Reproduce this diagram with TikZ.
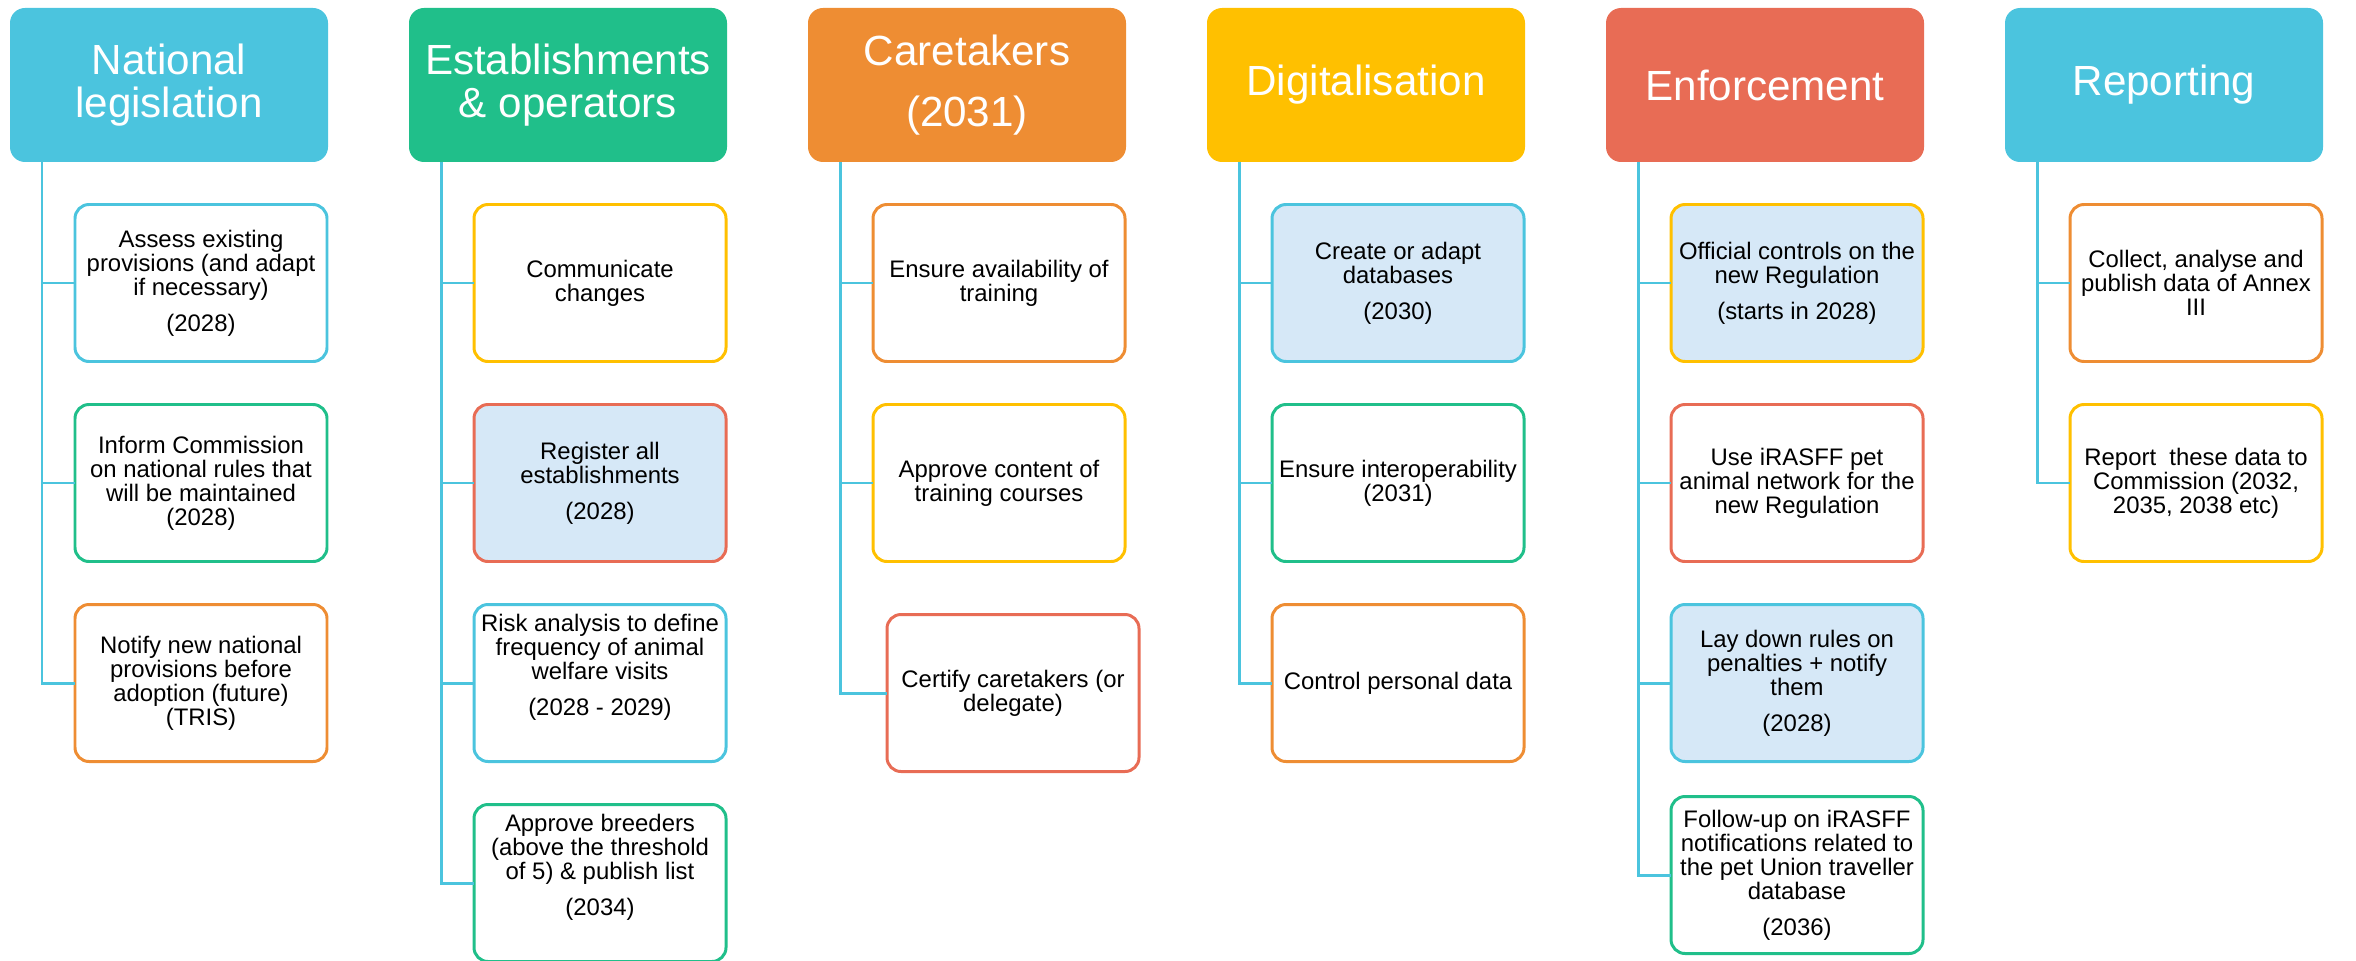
\documentclass[tikz,border=0pt]{standalone}
\usepackage{fontspec}
\setmainfont{Liberation Sans}
\usepackage{xcolor}
\usepackage{tikz}
\usetikzlibrary{positioning}

\definecolor{aqua}{HTML}{4BC4DE}
\definecolor{jade}{HTML}{20BF8A}
\definecolor{amber}{HTML}{EE8D33}
\definecolor{gold}{HTML}{FFC000}
\definecolor{coral}{HTML}{E86C55}
\definecolor{paleblue}{HTML}{D6E8F7}

\begin{document}
\begin{tikzpicture}[
	header/.style={rectangle, rounded corners=0.30cm, minimum width=6.36cm, minimum height=3.08cm,
		inner sep=0pt, outer sep=0pt, align=center, text=white, font=\fontsize{24}{24.5}\selectfont},
	task/.style={rectangle, rounded corners=0.28cm, draw, line width=1.7pt, fill=white,
		minimum width=5.04cm, minimum height=3.14cm, inner sep=0pt, outer sep=0pt,
		align=center, font=\fontsize{13.6}{13.7}\selectfont},
	link/.style={draw=aqua, line width=1.7pt},
	]
	
	\useasboundingbox (0,0) rectangle (47.12cm,-19.20cm);
	
	% ---------------------
	% Column heads
	\node[header, fill=aqua] (NatHead) at (3.38cm,-1.70cm) {National\\legislation};
	\node[header, fill=jade, right=1.62cm of NatHead] (EstHead) {Establishments\\\& operators};
	\node[header, fill=amber, right=1.62cm of EstHead] (CareHead) {Caretakers\\[10pt](2031)};
	\node[header, fill=gold, right=1.62cm of CareHead] (DigHead) {Digitalisation};
	\node[header, fill=coral, right=1.62cm of DigHead] (EnfHead) {Enforcement};
	\node[header, fill=aqua, right=1.62cm of EnfHead] (RepHead) {Reporting};
	
	% ---------------------
	% National legislation
	\node[task, draw=aqua, below right=0.85cm and 1.30cm of NatHead.south west] (Nat1)
		{Assess existing\\provisions (and adapt\\if necessary)\\[6.8pt](2028)};
	\node[task, draw=jade, below=0.86cm of Nat1] (Nat2)
		{Inform Commission\\on national rules that\\will be maintained\\(2028)};
	\node[task, draw=amber, below=0.86cm of Nat2] (Nat3)
		{Notify new national\\provisions before\\adoption (future)\\(TRIS)};
	
	% ---------------------
	% Establishments & operators
	\node[task, draw=gold, below right=0.85cm and 1.30cm of EstHead.south west] (Est1)
		{Communicate\\changes};
	\node[task, draw=coral, fill=paleblue, below=0.86cm of Est1] (Est2)
		{Register all\\establishments\\[6.8pt](2028)};
	\node[task, draw=aqua, below=0.86cm of Est2] (Est3)
		{Risk analysis to define\\frequency of animal\\welfare visits\\[6.8pt](2028 - 2029)\\[6.8pt]\mbox{}};
	\node[task, draw=jade, below=0.86cm of Est3] (Est4)
		{Approve breeders\\(above the threshold\\of 5) \& publish list\\[6.8pt](2034)\\[6.8pt]\mbox{}};
	
	% ---------------------
	% Caretakers
	\node[task, draw=amber, below right=0.85cm and 1.30cm of CareHead.south west] (Care1)
		{Ensure availability of\\training};
	\node[task, draw=gold, below=0.86cm of Care1] (Care2)
		{Approve content of\\training courses};
	\node[task, draw=coral, below=1.06cm of Care2, xshift=0.28cm] (Care3)
		{Certify caretakers (or\\delegate)};
	
	% ---------------------
	% Digitalisation
	\node[task, draw=aqua, fill=paleblue, below right=0.85cm and 1.30cm of DigHead.south west] (Dig1)
		{Create or adapt\\databases\\[6.8pt](2030)};
	\node[task, draw=jade, below=0.86cm of Dig1] (Dig2)
		{Ensure interoperability\\(2031)};
	\node[task, draw=amber, below=0.86cm of Dig2] (Dig3)
		{Control personal data};
	
	% ---------------------
	% Enforcement
	\node[task, draw=gold, fill=paleblue, below right=0.85cm and 1.30cm of EnfHead.south west] (Enf1)
		{Official controls on the\\new Regulation\\[6.8pt](starts in 2028)};
	\node[task, draw=coral, below=0.86cm of Enf1] (Enf2)
		{Use iRASFF pet\\animal network for the\\new Regulation};
	\node[task, draw=aqua, fill=paleblue, below=0.86cm of Enf2] (Enf3)
		{Lay down rules on\\penalties + notify\\them\\[6.8pt](2028)};
	\node[task, draw=jade, below=0.70cm of Enf3] (Enf4)
		{Follow-up on iRASFF\\notifications related to\\the pet Union traveller\\database\\[6.8pt](2036)};
	
	% ---------------------
	% Reporting
	\node[task, draw=amber, below right=0.85cm and 1.30cm of RepHead.south west] (Rep1)
		{Collect, analyse and\\publish data of Annex\\III};
	\node[task, draw=gold, below=0.86cm of Rep1] (Rep2)
		{Report~ these data to\\Commission (2032,\\2035, 2038 etc)};
	
	% ------------------------------------------------
	% Trunks
	\path (NatHead.south west)  +(0.64cm,0.00cm) coordinate (NatTrunk);
	\path (EstHead.south west)  +(0.64cm,0.00cm) coordinate (EstTrunk);
	\path (CareHead.south west) +(0.64cm,0.00cm) coordinate (CareTrunk);
	\path (DigHead.south west)  +(0.64cm,0.00cm) coordinate (DigTrunk);
	\path (EnfHead.south west)  +(0.64cm,0.00cm) coordinate (EnfTrunk);
	\path (RepHead.south west)  +(0.64cm,0.00cm) coordinate (RepTrunk);
	
	\draw[link] (NatTrunk) |- (Nat3.west);
	\draw[link] (Nat1.west) -- (Nat1.west -| NatTrunk);
	\draw[link] (Nat2.west) -- (Nat2.west -| NatTrunk);
	
	\draw[link] (EstTrunk) |- (Est4.west);
	\draw[link] (Est1.west) -- (Est1.west -| EstTrunk);
	\draw[link] (Est2.west) -- (Est2.west -| EstTrunk);
	\draw[link] (Est3.west) -- (Est3.west -| EstTrunk);
	
	\draw[link] (CareTrunk) |- (Care3.west);
	\draw[link] (Care1.west) -- (Care1.west -| CareTrunk);
	\draw[link] (Care2.west) -- (Care2.west -| CareTrunk);
	
	\draw[link] (DigTrunk) |- (Dig3.west);
	\draw[link] (Dig1.west) -- (Dig1.west -| DigTrunk);
	\draw[link] (Dig2.west) -- (Dig2.west -| DigTrunk);
	
	\draw[link] (EnfTrunk) |- (Enf4.west);
	\draw[link] (Enf1.west) -- (Enf1.west -| EnfTrunk);
	\draw[link] (Enf2.west) -- (Enf2.west -| EnfTrunk);
	\draw[link] (Enf3.west) -- (Enf3.west -| EnfTrunk);
	
	\draw[link] (RepTrunk) |- (Rep2.west);
	\draw[link] (Rep1.west) -- (Rep1.west -| RepTrunk);
	
\end{tikzpicture}
\end{document}
